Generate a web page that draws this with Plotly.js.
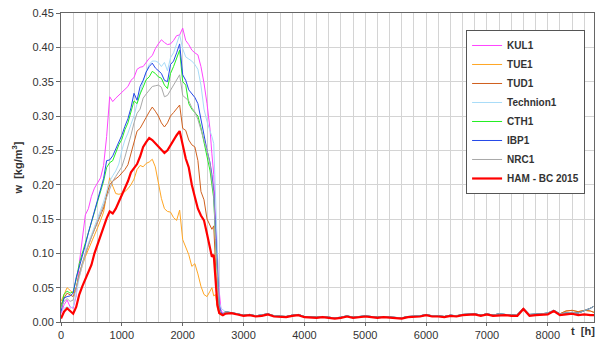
<!DOCTYPE html>
<html><head><meta charset="utf-8">
<script src="https://cdn.plot.ly/plotly-3.0.1.min.js"></script>
<style>html,body{margin:0;padding:0;background:#fff}#chart{width:605px;height:344px}</style>
</head><body><div id="chart"></div>
<script>
const seriesNames = ["KUL1","TUE1","TUD1","Technion1","CTH1","IBP1","NRC1","HAM - BC 2015"];
const mainT = [0,50,100,150,200,250,300,350,400,450,500,550,600,650,700,750,800,850,900,950,1000,1050,1100,1150,1200,1250,1300,1350,1400,1450,1500,1550,1600,1650,1700,1750,1800,1850,1900,1950,2000,2050,2100,2150,2200,2250,2300,2350,2400,2450,2480,2510,2540,2570,2600,2630,2660];
const kul1 = [0.012,0.025,0.032,0.022,0.02,0.038,0.085,0.125,0.156,0.165,0.183,0.195,0.203,0.21,0.228,0.27,0.328,0.321,0.326,0.33,0.335,0.338,0.343,0.352,0.356,0.368,0.371,0.372,0.378,0.384,0.388,0.398,0.405,0.411,0.407,0.404,0.405,0.41,0.417,0.418,0.428,0.41,0.404,0.396,0.392,0.389,0.372,0.348,0.318,0.28,0.245,0.215,0.148,0.09,0.045,0.018,0.012];
const tue1 = [0.03,0.04,0.05,0.046,0.042,0.05,0.068,0.082,0.095,0.105,0.115,0.125,0.137,0.148,0.16,0.185,0.21,0.198,0.187,0.186,0.187,0.19,0.194,0.2,0.208,0.222,0.228,0.226,0.231,0.233,0.237,0.226,0.2,0.18,0.165,0.161,0.16,0.152,0.148,0.163,0.12,0.108,0.098,0.081,0.085,0.07,0.052,0.04,0.037,0.045,0.05,0.038,0.04,0.02,0.012,0.01,0.01];
const tud1 = [0.025,0.035,0.042,0.04,0.037,0.05,0.07,0.085,0.1,0.112,0.124,0.135,0.145,0.155,0.166,0.185,0.2,0.205,0.208,0.212,0.217,0.222,0.229,0.245,0.262,0.278,0.282,0.289,0.298,0.306,0.313,0.307,0.3,0.29,0.284,0.29,0.3,0.305,0.31,0.316,0.282,0.279,0.265,0.258,0.255,0.235,0.19,0.178,0.15,0.14,0.135,0.14,0.09,0.025,0.015,0.012,0.011];
const technion1 = [0.015,0.02,0.022,0.02,0.022,0.04,0.065,0.085,0.1,0.115,0.127,0.138,0.15,0.163,0.175,0.19,0.205,0.213,0.22,0.23,0.25,0.265,0.275,0.288,0.3,0.318,0.333,0.35,0.365,0.375,0.38,0.38,0.378,0.372,0.378,0.366,0.385,0.392,0.405,0.418,0.398,0.386,0.383,0.38,0.375,0.368,0.345,0.31,0.292,0.28,0.27,0.26,0.18,0.08,0.03,0.02,0.018];
const cth1 = [0.02,0.04,0.045,0.042,0.044,0.062,0.085,0.1,0.115,0.13,0.142,0.16,0.175,0.19,0.205,0.225,0.232,0.235,0.248,0.258,0.266,0.28,0.29,0.305,0.322,0.318,0.332,0.342,0.353,0.357,0.365,0.362,0.357,0.355,0.345,0.34,0.362,0.372,0.385,0.396,0.35,0.345,0.318,0.31,0.305,0.3,0.283,0.262,0.24,0.22,0.2,0.18,0.12,0.06,0.02,0.012,0.011];
const ibp1 = [0.015,0.035,0.037,0.038,0.042,0.065,0.08,0.095,0.112,0.13,0.146,0.162,0.178,0.195,0.209,0.235,0.236,0.242,0.252,0.262,0.272,0.285,0.296,0.312,0.333,0.323,0.343,0.352,0.364,0.372,0.377,0.37,0.366,0.362,0.352,0.35,0.375,0.38,0.392,0.405,0.36,0.352,0.338,0.332,0.327,0.318,0.295,0.272,0.25,0.232,0.215,0.19,0.13,0.07,0.025,0.014,0.012];
const nrc1 = [0.02,0.03,0.034,0.03,0.032,0.05,0.07,0.085,0.1,0.112,0.122,0.135,0.147,0.158,0.17,0.183,0.195,0.205,0.212,0.219,0.226,0.24,0.255,0.272,0.29,0.304,0.31,0.326,0.332,0.338,0.343,0.344,0.345,0.342,0.328,0.33,0.338,0.345,0.352,0.36,0.33,0.326,0.322,0.312,0.306,0.295,0.28,0.262,0.25,0.23,0.21,0.185,0.12,0.06,0.02,0.012,0.011];
const hamBc = [0.005,0.015,0.02,0.016,0.012,0.022,0.04,0.052,0.063,0.072,0.083,0.1,0.113,0.124,0.137,0.151,0.161,0.158,0.165,0.175,0.183,0.195,0.205,0.218,0.225,0.23,0.241,0.255,0.262,0.268,0.265,0.26,0.255,0.25,0.246,0.25,0.258,0.265,0.272,0.278,0.258,0.238,0.225,0.2,0.182,0.165,0.155,0.148,0.128,0.108,0.095,0.098,0.06,0.025,0.013,0.011,0.01];

const tailT = [2700,2800,2900,3000,3100,3200,3300,3400,3500,3600,3700,3800,3900,4000,4100,4200,4300,4400,4500,4600,4700,4800,4900,5000,5100,5200,5300,5400,5500,5600,5700,5800,5900,6000,6100,6200,6300,6400,6500,6600,6700,6800,6900,7000,7100,7200,7300,7400,7500,7600,7700,7800,7900,8000,8100,8200,8300,8400,8500,8600,8700,8760];
const tailRed = [0.012,0.013,0.011,0.009,0.01,0.008,0.009,0.011,0.008,0.008,0.007,0.009,0.01,0.007,0.006,0.006,0.007,0.006,0.005,0.006,0.008,0.006,0.007,0.008,0.007,0.006,0.007,0.006,0.006,0.005,0.007,0.007,0.008,0.01,0.008,0.008,0.007,0.009,0.008,0.01,0.01,0.011,0.009,0.011,0.009,0.01,0.01,0.009,0.009,0.019,0.009,0.01,0.01,0.011,0.016,0.01,0.011,0.012,0.01,0.011,0.01,0.01];
const tailBlue = [0.015,0.014,0.012,0.01,0.011,0.009,0.01,0.012,0.009,0.009,0.008,0.01,0.011,0.008,0.007,0.007,0.008,0.007,0.006,0.007,0.009,0.007,0.008,0.009,0.008,0.007,0.008,0.007,0.007,0.006,0.008,0.008,0.009,0.011,0.009,0.009,0.008,0.01,0.009,0.011,0.012,0.012,0.01,0.012,0.01,0.012,0.011,0.01,0.011,0.02,0.011,0.011,0.012,0.013,0.017,0.012,0.013,0.014,0.013,0.016,0.02,0.023];
const tailBrown = [0.013,0.013,0.011,0.01,0.01,0.009,0.009,0.011,0.009,0.008,0.008,0.009,0.01,0.008,0.007,0.007,0.007,0.007,0.006,0.006,0.008,0.007,0.007,0.008,0.008,0.007,0.007,0.007,0.006,0.006,0.007,0.008,0.008,0.01,0.009,0.008,0.008,0.009,0.009,0.01,0.011,0.011,0.01,0.011,0.01,0.011,0.01,0.01,0.01,0.019,0.01,0.011,0.011,0.012,0.016,0.012,0.016,0.017,0.015,0.017,0.016,0.014];

const xTickVals = [0,1000,2000,3000,4000,5000,6000,7000,8000];
const xTickText = ["0","1000","2000","3000","4000","5000","6000","7000","8000"];

const colors = ["#ff44ff","#ffa624","#d0601e","#a8dcf8","#22ee22","#2448e8","#a8a8a8","#ff0000"];
const mains = [kul1,tue1,tud1,technion1,cth1,ibp1,nrc1,hamBc];
const tails = [tailBlue,tailBrown,tailBrown,tailBlue,tailBlue,tailBlue,tailBlue,tailRed];
const widths = [1,1,1,1,1,1,1,2.2];

const allT = mainT.concat(tailT);
const traces = seriesNames.map((n,i)=>({
  type:'scatter', mode:'lines', name:n, x:allT, y:mains[i].concat(tails[i]),
  line:{color:colors[i], width:widths[i]}, legendgroup:'g'+i
}));

const layout = {
  width:605, height:344,
  margin:{l:61, r:11, t:13, b:22},
  paper_bgcolor:'#fff', plot_bgcolor:'#fff',
  font:{family:'Liberation Sans, Arial, sans-serif', color:'#333', size:11},
  showlegend:true,
  legend:{x:0.76, y:0.945, xanchor:'left', yanchor:'top', bgcolor:'#fff', bordercolor:'#555', borderwidth:1,
    font:{size:10, weight:'bold', color:'#333'}, tracegroupgap:4, traceorder:'normal', itemwidth:30},
  xaxis:{range:[0,8760], tickvals:xTickVals, ticktext:xTickText, showgrid:true, gridcolor:'#d4d4d4', gridwidth:1,
    minor:{dtick:200, tick0:0, showgrid:true, gridcolor:'#d4d4d4', gridwidth:1},
    showline:true, linecolor:'#666', linewidth:1, mirror:true, ticks:'outside', ticklen:3, tickcolor:'#666',
    zeroline:false, tickfont:{size:11, color:'#333'}},
  yaxis:{range:[0,0.45], dtick:0.05, tick0:0, tickformat:'.2f', showgrid:true, gridcolor:'#d4d4d4', gridwidth:1,
    showline:true, linecolor:'#666', linewidth:1, mirror:true, ticks:'outside', ticklen:4, tickcolor:'#666',
    zeroline:false, tickfont:{size:11, color:'#333'},
    title:{text:'w  [kg/m<sup>3</sup>]', standoff:7, font:{size:11, weight:'bold', color:'#333'}}},
  annotations:[{xref:'paper', yref:'paper', x:0.979, y:-0.03, xanchor:'center', yanchor:'middle', showarrow:false,
    text:'t  [h]', font:{size:11, weight:'bold', color:'#333'}}]
};
Plotly.newPlot('chart', traces, layout, {staticPlot:true, displayModeBar:false});
</script></body></html>
